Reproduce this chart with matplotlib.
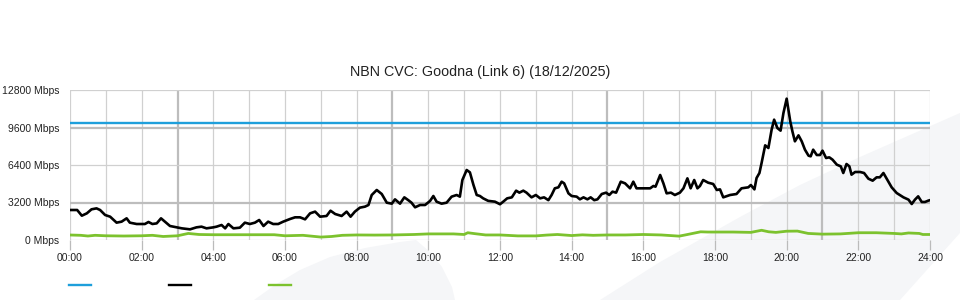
import matplotlib
matplotlib.use("Agg")
import matplotlib.pyplot as plt
from matplotlib.patches import Polygon
from matplotlib.lines import Line2D

# ---------------- data ----------------
title = "NBN CVC: Goodna (Link 6) (18/12/2025)"
x_tick_hours = [0, 2, 4, 6, 8, 10, 12, 14, 16, 18, 20, 22, 24]
x_tick_labels = ["00:00", "02:00", "04:00", "06:00", "08:00", "10:00", "12:00",
                 "14:00", "16:00", "18:00", "20:00", "22:00", "24:00"]
y_tick_values = [0, 3200, 6400, 9600, 12800]
y_tick_labels = ["0 Mbps", "3200 Mbps", "6400 Mbps", "9600 Mbps", "12800 Mbps"]

capacity_hours = [0, 24]
capacity_mbps = [10000, 10000]

traffic_hours = [0.00, 0.20, 0.33, 0.47, 0.60, 0.74, 0.84, 0.98, 1.12, 1.30, 1.44, 1.58, 1.67, 1.86,
                 2.09, 2.19, 2.30, 2.42, 2.54, 2.65, 2.79, 2.98, 3.12, 3.35, 3.53, 3.67, 3.81, 4.00,
                 4.09, 4.23, 4.33, 4.42, 4.56, 4.74, 4.88, 5.02, 5.16, 5.28, 5.40, 5.53, 5.67, 5.81,
                 5.95, 6.14, 6.28, 6.42, 6.56, 6.70, 6.84, 6.98, 7.16, 7.27, 7.40, 7.58, 7.72, 7.83,
                 7.95, 8.09, 8.23, 8.33, 8.42, 8.56, 8.70, 8.84, 8.98, 9.07, 9.21, 9.33, 9.44, 9.53,
                 9.63, 9.77, 9.91, 10.05, 10.14, 10.23, 10.37, 10.51, 10.65, 10.79, 10.88, 10.95,
                 11.07, 11.16, 11.26, 11.35, 11.44, 11.53, 11.67, 11.86, 12.00, 12.09, 12.20, 12.33,
                 12.45, 12.54, 12.65, 12.74, 12.88, 13.00, 13.12, 13.23, 13.35, 13.44, 13.53, 13.63,
                 13.72, 13.79, 13.91, 14.00, 14.14, 14.23, 14.33, 14.44, 14.53, 14.63, 14.72, 14.84,
                 14.96, 15.05, 15.14, 15.24, 15.37, 15.49, 15.63, 15.72, 15.81, 16.19, 16.28, 16.34,
                 16.47, 16.56, 16.65, 16.77, 16.88, 17.02, 17.12, 17.23, 17.32, 17.42, 17.51, 17.58,
                 17.67, 17.81, 17.95, 18.05, 18.14, 18.23, 18.42, 18.60, 18.74, 18.93, 19.00, 19.10,
                 19.16, 19.24, 19.30, 19.40, 19.49, 19.58, 19.65, 19.74, 19.83, 19.91, 20.00, 20.10,
                 20.16, 20.23, 20.33, 20.42, 20.51, 20.61, 20.67, 20.74, 20.84, 20.93, 21.00, 21.10,
                 21.19, 21.28, 21.40, 21.51, 21.58, 21.67, 21.75, 21.81, 21.91, 22.05, 22.16, 22.28,
                 22.40, 22.51, 22.60, 22.70, 22.79, 22.93, 23.07, 23.26, 23.40, 23.49, 23.58, 23.67,
                 23.77, 23.86, 23.95, 24.00]
traffic_mbps = [2560, 2560, 2075, 2275, 2617, 2700, 2560, 2133, 1990, 1480, 1565, 1850, 1480, 1365,
                1365, 1536, 1365, 1420, 1850, 1565, 1195, 1080, 995, 910, 1080, 1138, 995, 1080,
                1138, 1280, 995, 1365, 995, 1050, 1480, 1365, 1480, 1707, 1195, 1565, 1365, 1365,
                1565, 1792, 1935, 1935, 1764, 2275, 2420, 1990, 2050, 2500, 2218, 2050, 2420, 1990,
                2420, 2760, 2845, 2987, 3840, 4267, 3925, 3185, 3100, 3470, 3100, 3640, 3400, 3185,
                2790, 2987, 2987, 3340, 3755, 3270, 3100, 3185, 3700, 3840, 3700, 5120,
                5973, 5773, 4693, 3840, 3755, 3555, 3340, 3270, 3050, 3270, 3555, 3640,
                4210, 4040, 4210, 4040, 3640, 3840, 3555, 3640, 3400, 3840, 4410, 4495,
                4977, 4835, 3982, 3755, 3700, 3470, 3640, 3470, 3640, 3400, 3470, 3925,
                4040, 3840, 4125, 4040, 4977, 4835, 4410, 4977, 4410, 4410, 4608, 4550,
                5547, 4835, 3982, 4040, 3840, 4040, 4410, 5262, 4410, 5120, 4410, 4608,
                5120, 4890, 4780, 4267, 4320, 3640, 3840, 3925, 4410, 4495, 4693, 4320,
                5290, 5717, 6570, 8078, 7850, 9413, 10267, 9557, 9330, 10837, 12060, 10127,
                9273, 8420, 8930, 8420, 7708, 7196, 7140, 7708, 7253, 7253, 7623, 6997,
                7054, 6855, 6428, 6286, 5717, 6485, 6286, 5575, 5803, 5803, 5717, 5233,
                5063, 5347, 5347, 5717, 5233, 4494, 4010, 3640, 3443, 3072, 3443, 3725,
                3243, 3243, 3356, 3400]

upload_hours = [0.0, 0.3, 0.5, 0.7, 1.0, 1.5, 2.0, 2.3, 2.6, 3.0, 3.3, 3.6, 4.0, 5.0, 5.7, 6.0,
                6.5, 7.0, 7.3, 7.6, 8.0, 8.5, 9.0, 9.6, 10.0, 10.7, 11.0, 11.1, 11.3, 11.6,
                12.0, 12.5, 13.0, 13.3, 13.6, 14.0, 14.3, 14.6, 15.0, 15.5, 16.0, 16.5, 17.0,
                17.2, 17.6, 17.8, 18.0, 18.5, 19.0, 19.3, 19.5, 19.7, 20.0, 20.3, 20.6, 21.0,
                21.5, 22.0, 22.5, 23.0, 23.2, 23.4, 23.7, 23.8, 24.0]
upload_mbps = [427, 400, 340, 400, 360, 340, 360, 400, 300, 360, 560, 470, 450, 450, 450, 360,
               400, 250, 300, 400, 430, 420, 430, 470, 520, 520, 470, 620, 540, 430,
               430, 350, 350, 420, 470, 380, 440, 400, 430, 430, 470, 430, 330,
               450, 700, 680, 680, 680, 650, 830, 700, 650, 750, 760, 560, 500,
               520, 620, 620, 560, 520, 600, 560, 470, 470]

# ---------------- style ----------------
plt.rcParams['font.family'] = ['Liberation Sans', 'DejaVu Sans']
W, H = 960, 300
fig = plt.figure(figsize=(W / 100, H / 100), dpi=100)
fig.patch.set_facecolor('white')

# background axes for faint watermark shapes (pixel coords, y from top)
bg = fig.add_axes([0, 0, 1, 1], zorder=-5)
bg.set_xlim(0, W)
bg.set_ylim(H, 0)
bg.axis('off')
wm_color = '#f5f6f8'
leaf = [(254, 300), (275, 285), (300, 270), (330, 257), (365, 248), (400, 242), (416, 240),
        (430, 252), (442, 267), (452, 287), (455, 300)]
band = [(600, 300), (660, 262), (740, 217), (800, 185), (860, 157), (935, 124), (960, 113),
        (960, 233), (900, 300)]
for poly in (leaf, band):
    bg.add_patch(Polygon(poly, closed=True, facecolor=wm_color, edgecolor='none'))

ax = fig.add_axes([70 / W, 1 - 240 / H, 860 / W, 150 / H], zorder=1)
ax.patch.set_alpha(0)
ax.set_xlim(0, 24)
ax.set_ylim(0, 12800)

# grid
light = '#d0d0d0'
dark = '#bdbdbd'
for h in range(0, 25):
    if h % 6 == 3:
        ax.axvline(h, color=dark, lw=1.6, zorder=1)
    else:
        ax.axvline(h, color=light, lw=0.9, zorder=1)
for v in y_tick_values:
    if v in (3200, 9600):
        ax.axhline(v, color=dark, lw=1.6, zorder=1)
    else:
        ax.axhline(v, color=light, lw=0.9, zorder=1)

for s in ax.spines.values():
    s.set_visible(False)

ax.plot(capacity_hours, capacity_mbps, color='#1e9fdb', lw=1.7, zorder=3)
ax.plot(upload_hours, upload_mbps, color='#7cc22e', lw=2.0, zorder=3)
ax.plot(traffic_hours, traffic_mbps, color='black', lw=1.9, zorder=4)

ax.set_xticks(x_tick_hours)
ax.set_xticklabels(x_tick_labels)
ax.set_yticks(y_tick_values)
ax.set_yticklabels(y_tick_labels)
ax.tick_params(axis='x', length=7, width=0.9, color='#bbbbbb', pad=2.5,
               labelsize=7.5, labelcolor='#222222')
ax.tick_params(axis='y', length=0, pad=7.5, labelsize=7.5, labelcolor='#222222')

fig.text(0.5, 1 - 72 / H, title, ha='center', va='center', fontsize=10.3, color='#222222')

# legend swatches
legend_colors = ['#1e9fdb', 'black', '#7cc22e']
legend_x = [69, 169, 269]
for c, x0 in zip(legend_colors, legend_x):
    fig.add_artist(Line2D([x0 / W, (x0 + 22) / W], [1 - 285 / H, 1 - 285 / H],
                          transform=fig.transFigure, color=c, lw=1.7))

fig.savefig('out.png', dpi=100)
